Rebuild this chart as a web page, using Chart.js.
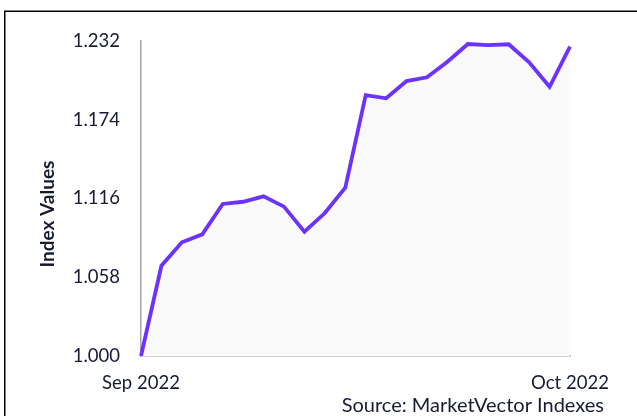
<!DOCTYPE html>
<html>
<head>
<meta charset="utf-8">
<script src="https://cdn.jsdelivr.net/npm/chart.js@4/dist/chart.umd.min.js"></script>
<style>
  html, body { margin: 0; padding: 0; background: #ffffff; }
  #wrap { position: relative; width: 637px; height: 416px; overflow: hidden; }
  canvas { display: block; }
</style>
</head>
<body>
<div id="wrap"><canvas id="c" width="637" height="416"></canvas></div>
<script>
// ---- Data ----
const categories = ['P1','P2','P3','P4','P5','P6','P7','P8','P9','P10','P11',
                    'P12','P13','P14','P15','P16','P17','P18','P19','P20','P21','P22'];
const xTickLabels = ['Sep 2022', 'Oct 2022'];
const indexValues = [1.000, 1.0665, 1.0837, 1.0896, 1.1120, 1.1136, 1.1176, 1.1100,
                     1.0915, 1.1053, 1.1240, 1.1922, 1.1898, 1.2025, 1.2053, 1.2167,
                     1.2298, 1.2290, 1.2296, 1.2163, 1.1983, 1.2278];
const yTicks = [1.000, 1.058, 1.116, 1.174, 1.232];
const yAxisTitle = 'Index Values';
const sourceNote = 'Source: MarketVector Indexes';

const FONT = 'Lato, "Open Sans", sans-serif';
const TEXT = '#161b33';

const decorPlugin = {
  id: 'decor',
  beforeDraw(chart) {
    const ctx = chart.ctx;
    ctx.save();
    ctx.strokeStyle = '#000000';
    ctx.lineWidth = 1.5;
    ctx.beginPath();
    ctx.moveTo(4.75, chart.height + 5);
    ctx.lineTo(4.75, 11.25);
    ctx.lineTo(chart.width + 5, 11.25);
    ctx.stroke();
    ctx.restore();
  },
  afterDraw(chart) {
    const ctx = chart.ctx;
    ctx.save();
    ctx.fillStyle = TEXT;
    // y axis title
    ctx.font = 'bold 19px ' + FONT;
    ctx.textAlign = 'center';
    ctx.textBaseline = 'middle';
    ctx.translate(48, 214);
    ctx.rotate(-Math.PI / 2);
    ctx.fillText(yAxisTitle, 0, 0);
    ctx.restore();
    ctx.save();
    ctx.fillStyle = TEXT;
    ctx.font = '20px ' + FONT;
    ctx.textAlign = 'right';
    ctx.textBaseline = 'middle';
    ctx.fillText(sourceNote, 604, 406);
    ctx.restore();
  }
};

new Chart(document.getElementById('c'), {
  type: 'line',
  data: {
    labels: categories,
    datasets: [{
      data: indexValues,
      borderColor: '#6c33ff',
      borderWidth: 3.8,
      backgroundColor: '#f9f9f9',
      fill: 'start',
      pointRadius: 0,
      tension: 0,
      borderJoinStyle: 'miter'
    }]
  },
  options: {
    responsive: false,
    animation: false,
    layout: { padding: { left: 0, top: 41, right: 67, bottom: 0 } },
    plugins: { legend: { display: false }, tooltip: { enabled: false } },
    scales: {
      x: {
        type: 'category',
        grid: { display: false, drawTicks: false },
        border: { display: true, color: '#a6a6a6', width: 1.5 },
        ticks: {
          autoSkip: false,
          maxRotation: 0,
          padding: 16,
          color: TEXT,
          font: { family: FONT, size: 18.5 },
          callback: function(v, i) {
            if (i === 0) return xTickLabels[0];
            if (i === categories.length - 1) return xTickLabels[1];
            return '';
          }
        },
        afterFit(s) { s.height = 60; }
      },
      y: {
        min: yTicks[0],
        max: yTicks[yTicks.length - 1],
        grid: { display: false, drawTicks: false },
        border: { display: true, color: '#a6a6a6', width: 1.5 },
        afterBuildTicks(s) { s.ticks = yTicks.map(v => ({ value: v })); },
        ticks: {
          padding: 21,
          color: TEXT,
          font: { family: FONT, size: 18.5 },
          callback: v => Number(v).toFixed(3)
        },
        afterFit(s) { s.width = 141; }
      }
    }
  },
  plugins: [decorPlugin]
});
</script>
</body>
</html>
